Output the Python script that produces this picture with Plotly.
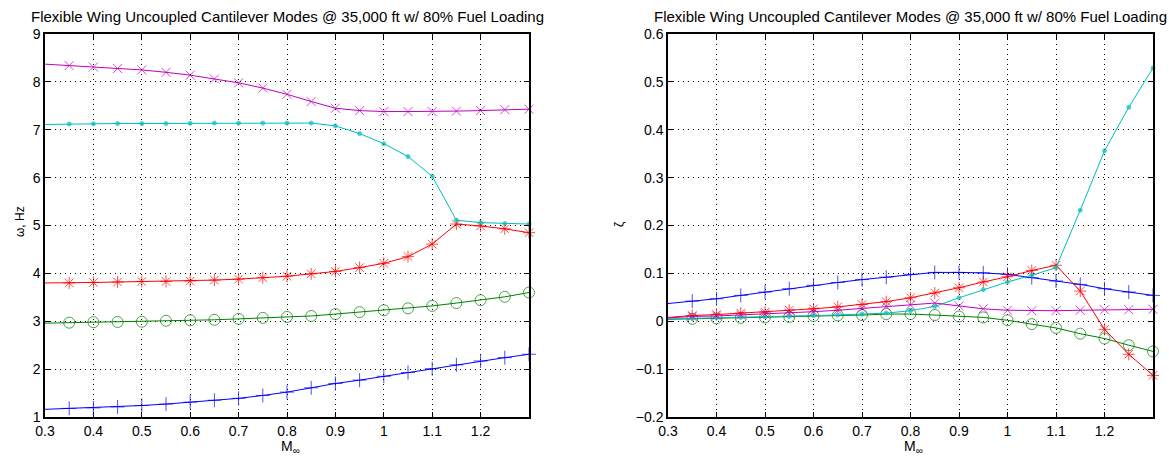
import plotly.graph_objects as go

mach = [0.30, 0.35, 0.40, 0.45, 0.50, 0.55, 0.60, 0.65, 0.70, 0.75, 0.80,
        0.85, 0.90, 0.95, 1.00, 1.05, 1.10, 1.15, 1.20, 1.25, 1.30]

# frequencies (Hz)
blue_w = [1.16, 1.18, 1.19, 1.21, 1.24, 1.27, 1.31, 1.35, 1.39, 1.45, 1.52,
          1.61, 1.70, 1.77, 1.85, 1.93, 2.01, 2.09, 2.17, 2.24, 2.31]
green_w = [2.96, 2.97, 2.98, 2.985, 2.99, 3.01, 3.02, 3.03, 3.05, 3.07, 3.09,
           3.11, 3.15, 3.19, 3.23, 3.27, 3.32, 3.38, 3.44, 3.51, 3.60]
red_w = [3.80, 3.80, 3.81, 3.82, 3.83, 3.83, 3.84, 3.86, 3.88, 3.91, 3.94,
         3.99, 4.04, 4.12, 4.21, 4.35, 4.61, 5.03, 4.99, 4.93, 4.85]
cyan_w = [7.11, 7.12, 7.125, 7.13, 7.13, 7.13, 7.135, 7.14, 7.14, 7.14, 7.14,
          7.14, 7.08, 6.92, 6.71, 6.44, 6.03, 5.11, 5.06, 5.04, 5.03]
mag_w = [8.37, 8.34, 8.31, 8.28, 8.25, 8.20, 8.14, 8.06, 7.98, 7.87, 7.74,
         7.59, 7.45, 7.40, 7.38, 7.38, 7.38, 7.39, 7.40, 7.42, 7.43]

# damping ratios
blue_z = [0.037, 0.042, 0.047, 0.054, 0.061, 0.068, 0.075, 0.081, 0.087, 0.092, 0.098,
          0.102, 0.102, 0.101, 0.098, 0.091, 0.084, 0.077, 0.068, 0.061, 0.054]
green_z = [0.004, 0.005, 0.006, 0.007, 0.008, 0.009, 0.011, 0.012, 0.013, 0.015, 0.015,
           0.013, 0.010, 0.008, 0.002, -0.006, -0.014, -0.026, -0.036, -0.050, -0.063]
red_z = [0.008, 0.012, 0.014, 0.017, 0.019, 0.023, 0.026, 0.030, 0.035, 0.041, 0.049,
         0.059, 0.070, 0.082, 0.093, 0.106, 0.117, 0.063, -0.017, -0.069, -0.113]
cyan_z = [0.005, 0.006, 0.007, 0.008, 0.009, 0.010, 0.012, 0.013, 0.015, 0.017, 0.022,
          0.031, 0.049, 0.066, 0.082, 0.096, 0.112, 0.232, 0.356, 0.447, 0.529]
mag_z = [0.007, 0.010, 0.011, 0.013, 0.015, 0.017, 0.020, 0.023, 0.027, 0.031, 0.034,
         0.038, 0.032, 0.026, 0.023, 0.022, 0.022, 0.023, 0.024, 0.024, 0.025]

x_ticks = [0.3, 0.4, 0.5, 0.6, 0.7, 0.8, 0.9, 1.0, 1.1, 1.2]
x_ticktext = ["0.3", "0.4", "0.5", "0.6", "0.7", "0.8", "0.9", "1", "1.1", "1.2"]
title_text = "Flexible Wing Uncoupled Cantilever Modes @ 35,000 ft w/ 80% Fuel Loading"

styles = [
    ("#0000ff", "cross-thin-open", 10),
    ("#008000", "circle-open", 11),
    ("#ff0000", "asterisk-open", 10),
    ("#00bfbf", "circle", 4),
    ("#bf00bf", "x-thin-open", 9),
]

FONT = "Liberation Sans, Arial, sans-serif"
fig = go.Figure()

for series, (xa, ya) in [([blue_w, green_w, red_w, cyan_w, mag_w], ("x", "y")),
                         ([blue_z, green_z, red_z, cyan_z, mag_z], ("x2", "y2"))]:
    for vals, (col, sym, sz) in zip(series, styles):
        sizes = [0] + [sz] * (len(mach) - 1)
        fig.add_trace(go.Scatter(
            x=mach, y=vals, xaxis=xa, yaxis=ya, mode="lines+markers",
            line=dict(color=col, width=1),
            marker=dict(symbol=sym, size=sizes, color=col,
                        line=dict(color=col, width=1)),
            cliponaxis=False, showlegend=False))

axis_common = dict(
    showline=True, linecolor="black", linewidth=1.5, mirror="ticks",
    ticks="inside", ticklen=5, tickcolor="black", tickwidth=1,
    showgrid=True, gridcolor="black", gridwidth=1, griddash="1px,4px",
    zeroline=False, automargin=False,
    tickfont=dict(family=FONT, size=14, color="black"),
)

fig.update_layout(
    width=1169, height=459,
    margin=dict(l=0, r=0, t=0, b=0, pad=0, autoexpand=False),
    paper_bgcolor="white", plot_bgcolor="white",
    hovermode=False,
    xaxis=dict(domain=[45 / 1169, 529 / 1169], range=[0.3, 1.3], tickvals=x_ticks,
               ticktext=x_ticktext, anchor="y", **axis_common),
    yaxis=dict(domain=[42 / 459, 425 / 459], range=[1, 9], tickvals=list(range(1, 10)),
               anchor="x", **axis_common),
    xaxis2=dict(domain=[668 / 1169, 1153 / 1169], range=[0.3, 1.3], tickvals=x_ticks,
                ticktext=x_ticktext, anchor="y2", **axis_common),
    yaxis2=dict(domain=[42 / 459, 425 / 459], range=[-0.2, 0.6],
                tickvals=[-0.2, -0.1, 0, 0.1, 0.2, 0.3, 0.4, 0.5, 0.6],
                ticktext=["\u22120.2", "\u22120.1", "0", "0.1", "0.2", "0.3", "0.4", "0.5", "0.6"],
                anchor="x2", **axis_common),
)

annos = [
    dict(text=title_text, x=287 / 1169, y=1 - 17 / 459, xanchor="center", yanchor="middle", font_size=15),
    dict(text=title_text, x=910 / 1169, y=1 - 17 / 459, xanchor="center", yanchor="middle", font_size=15),
    dict(text="\u03c9, Hz", x=20 / 1169, y=1 - 222 / 459, textangle=-90, xanchor="center", yanchor="middle", font_size=12),
    dict(text="\u03b6", x=619 / 1169, y=1 - 224 / 459, textangle=-90, xanchor="center", yanchor="middle", font_size=12),
    dict(text="M<sub>\u221e</sub>", x=290 / 1169, y=1 - 447 / 459, xanchor="center", yanchor="middle", font_size=14),
    dict(text="M<sub>\u221e</sub>", x=913 / 1169, y=1 - 447 / 459, xanchor="center", yanchor="middle", font_size=14),
]
for a in annos:
    fs = a.pop("font_size")
    fig.add_annotation(xref="paper", yref="paper", showarrow=False,
                       font=dict(family=FONT, size=fs, color="black"), **a)

fig.write_html("out.html", config={"displayModeBar": False},
               post_script="document.body.style.margin='0';document.body.style.overflow='hidden';")
